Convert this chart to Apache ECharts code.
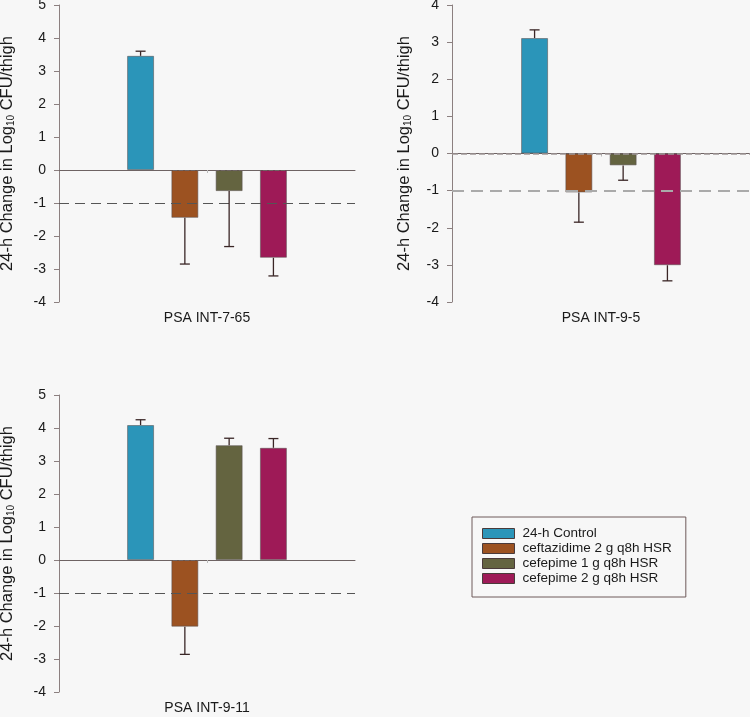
<!DOCTYPE html>
<html>
<head>
<meta charset="utf-8">
<script src="https://cdn.jsdelivr.net/npm/echarts@6/dist/echarts.min.js"></script>
<style>
html,body{margin:0;padding:0;background:#f7f7f7;}
#chart{width:750px;height:717px;}
</style>
</head>
<body>
<div id="chart"></div>
<script>
// ---- data ----
const categories = ['PSA INT-7-65', 'PSA INT-9-5', 'PSA INT-9-11'];
const treatments = ['24-h Control', 'ceftazidime 2 g q8h HSR', 'cefepime 1 g q8h HSR', 'cefepime 2 g q8h HSR'];
const meansINT765 = [3.46, -1.45, -0.64, -2.66];
const meansINT95  = [3.11, -1.05, -0.32, -3.01];
const meansINT911 = [4.09, -2.02, 3.48, 3.40];
const errINT765 = [0.14, 1.40, 1.68, 0.55];
const errINT95  = [0.22, 0.80, 0.40, 0.42];
const errINT911 = [0.16, 0.84, 0.21, 0.28];
const yMins = [-4, -4, -4];
const yMaxs = [5, 4, 5];
const refValue = -1;

const means = [meansINT765, meansINT95, meansINT911];
const errs = [errINT765, errINT95, errINT911];

// ---- style ----
const colors = ['#2b95b9', '#9c5221', '#646440', '#9e1a57'];
const FONT = '"Liberation Sans", Arial, sans-serif';
const BAR_W = 27, BAR_GAP = 0.64;
const grids = [
  {left: 59, top: 5, width: 296, height: 297, outerBoundsMode: 'none', containLabel: false},
  {left: 452, top: 5, width: 298, height: 297, outerBoundsMode: 'none', containLabel: false},
  {left: 59, top: 395, width: 296, height: 297, outerBoundsMode: 'none', containLabel: false}
];
const nameGaps = [42, 38, 42];
const zeroStyles = [
  {color: '#6e6363', width: 1},
  {color: '#a09898', width: 1.5},
  {color: '#6e6363', width: 1}
];
const dashStyles = [
  {color: '#555', width: 1, type: [10, 6]},
  {color: '#aaa', width: 2, type: [12, 7]},
  {color: '#555', width: 1, type: [10, 6]}
];

const xAxes = [], yAxes = [], series = [];
for (let p = 0; p < 3; p++) {
  xAxes.push({
    type: 'category', gridIndex: p, data: [categories[p]],
    axisLine: {lineStyle: {color: '#6e6363', width: 1}},
    axisTick: {show: true, alignWithLabel: true, length: 3, lineStyle: {color: '#bbb'}},
    axisLabel: {fontSize: 14, color: '#1a1a1a', fontFamily: FONT, margin: 9}
  });
  yAxes.push({
    type: 'value', gridIndex: p, min: yMins[p], max: yMaxs[p], interval: 1,
    axisLine: {show: true, lineStyle: {color: '#8c8080', width: 1}},
    axisTick: {show: true, length: 5, lineStyle: {color: '#8c8080'}},
    splitLine: {show: false},
    axisLabel: {fontSize: 14, color: '#1a1a1a', fontFamily: FONT, margin: 13},
    name: '{a|24-h Change in Log}{s|10}{a| CFU/thigh}',
    nameLocation: 'middle', nameRotate: 90, nameGap: nameGaps[p],
    nameTextStyle: {
      rich: {
        a: {fontSize: 16.5, color: '#1a1a1a', fontFamily: FONT, lineHeight: 20},
        s: {fontSize: 10, color: '#1a1a1a', fontFamily: FONT, lineHeight: 20, padding: [9, 0, 0, 0]}
      }
    }
  });
  for (let i = 0; i < 4; i++) {
    const s = {
      type: 'bar', name: treatments[i], xAxisIndex: p, yAxisIndex: p,
      data: [means[p][i]], barWidth: BAR_W, barGap: (BAR_GAP * 100) + '%',
      itemStyle: {color: colors[i], borderColor: 'rgba(90,80,80,0.55)', borderWidth: 1},
      z: 2
    };
    if (i === 0) {
      s.markLine = {
        silent: true, symbol: 'none', label: {show: false}, z: 5,
        data: [
          {yAxis: 0, lineStyle: zeroStyles[p]},
          {yAxis: refValue, lineStyle: dashStyles[p]}
        ]
      };
    }
    series.push(s);
  }
  // error bars
  const errData = means[p].map((m, i) => [0, m, errs[p][i], i]);
  series.push({
    type: 'custom', xAxisIndex: p, yAxisIndex: p, z: 6, silent: true,
    data: errData,
    encode: {x: 0, y: 1},
    renderItem: function (params, api) {
      const m = api.value(1), e = api.value(2), idx = api.value(3);
      const end = m >= 0 ? m + e : m - e;
      const c0 = api.coord([0, m]);
      const c1 = api.coord([0, end]);
      const step = BAR_W * (1 + BAR_GAP);
      const x = c0[0] + (idx - 1.5) * step;
      const st = {stroke: '#3a2626', lineWidth: 1.3};
      return {
        type: 'group',
        children: [
          {type: 'line', shape: {x1: x, y1: c0[1], x2: x, y2: c1[1]}, style: st},
          {type: 'line', shape: {x1: x - 5, y1: c1[1], x2: x + 5, y2: c1[1]}, style: st}
        ]
      };
    }
  });
}

const chart = echarts.init(document.getElementById('chart'), null, {renderer: 'canvas'});
chart.setOption({
  backgroundColor: '#f7f7f7',
  animation: false,
  grid: grids,
  xAxis: xAxes,
  yAxis: yAxes,
  legend: {
    data: treatments, orient: 'vertical', left: 472, top: 517,
    padding: [9, 14, 11, 10], itemGap: 0, itemWidth: 32, itemHeight: 10,
    icon: 'rect', borderColor: '#6e5a5a', borderWidth: 1, backgroundColor: '#f7f7f7',
    itemStyle: {borderColor: '#4a3a3a', borderWidth: 1},
    textStyle: {fontSize: 13.5, color: '#1a1a1a', fontFamily: FONT, lineHeight: 15, padding: [0, 0, 0, 3]},
    selectedMode: false
  },
  series: series
});
</script>
</body>
</html>
